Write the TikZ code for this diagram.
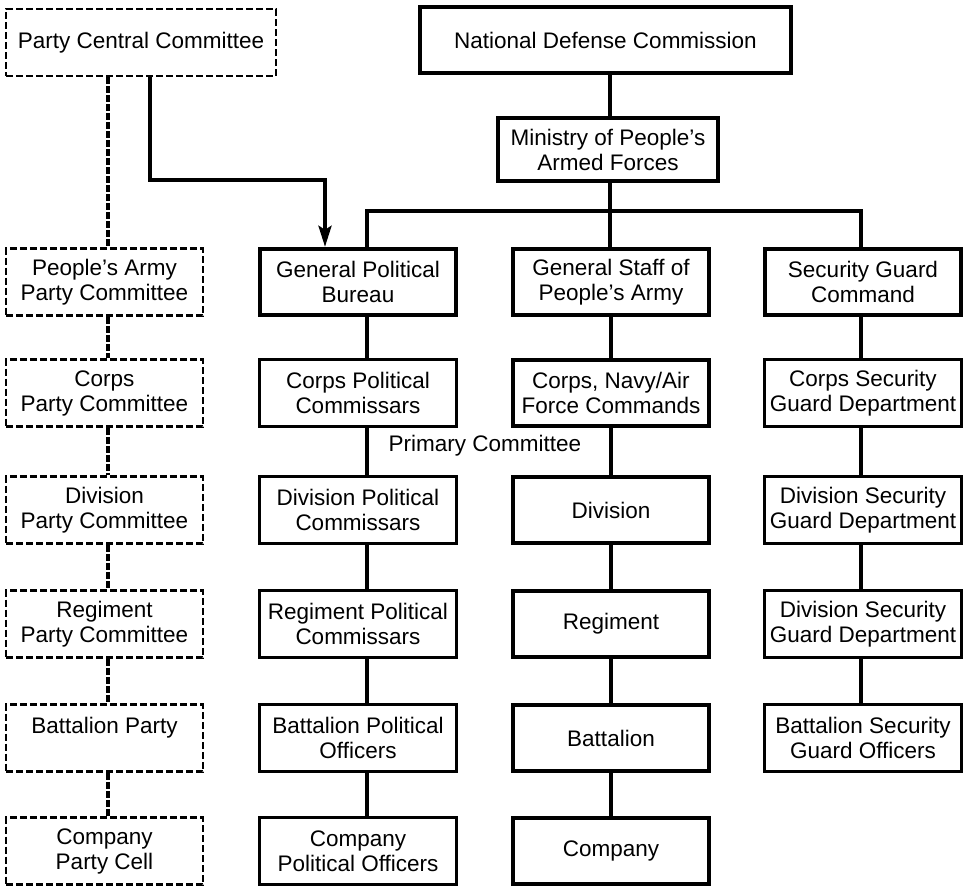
\documentclass[tikz,border=0pt]{standalone}
\usepackage{fontspec}
\setmainfont{Liberation Sans}
\usetikzlibrary{arrows.meta}

\tikzset{
    unit/.style={draw, line width=2.4pt, minimum width=197pt, minimum height=67pt,
        inner sep=0pt, align=center, font=\fontsize{22.5}{25}\selectfont},
    command/.style={unit, line width=4.4pt, minimum width=196pt, minimum height=66pt},
    party/.style={unit, line width=2.8pt, dash pattern=on 7pt off 3pt},
    link/.style={line width=3.6pt},
    partylink/.style={line width=3.4pt, dash pattern=on 7pt off 2pt},
}

\begin{document}
\begin{tikzpicture}[x=1pt, y=-1pt]
    \useasboundingbox (0,0) rectangle (970,889);

    % top of the chain
    \node[party, minimum width=270pt] (pcc) at (141, 42.5) {Party Central Committee};
    \node[command, minimum width=371pt] (ndc) at (605.5, 40) {National Defense Commission};
    \node[command, minimum width=220pt, minimum height=63pt] (mpaf) at (608, 149.5) {Ministry of People's\\Armed Forces};

    % party committees
    \node[party] (pc0) at (104.5, 282) {People's Army\\Party Committee};
    \node[party] (pc1) at (104.5, 393) {Corps\\Party Committee};
    \node[party] (pc2) at (104.5, 510) {Division\\Party Committee};
    \node[party] (pc3) at (104.5, 624) {Regiment\\Party Committee};
    \node[party] (pc4) at (104.5, 738) {Battalion Party\\\mbox{}};
    \node[party] (pc5) at (104.5, 851) {Company\\Party Cell};

    % political line
    \node[command] (pol0) at (358, 282) {General Political\\Bureau};
    \node[unit] (pol1) at (358, 393) {Corps Political\\Commissars};
    \node[unit] (pol2) at (358, 510) {Division Political\\Commissars};
    \node[unit] (pol3) at (358, 624) {Regiment Political\\Commissars};
    \node[unit] (pol4) at (358, 738) {Battalion Political\\Officers};
    \node[unit] (pol5) at (358, 851) {Company\\Political Officers};

    \node[font=\fontsize{22.5}{25}\selectfont] (primary) at (485, 446) {Primary Committee};

    % army line
    \node[command] (army0) at (611, 282) {General Staff of\\People's Army};
    \node[command] (army1) at (611, 393) {Corps, Navy/Air\\Force Commands};
    \node[command] (army2) at (611, 510) {Division};
    \node[command] (army3) at (611, 624) {Regiment};
    \node[command] (army4) at (611, 738) {Battalion};
    \node[command] (army5) at (611, 851) {Company};

    % security line
    \node[command] (sec0) at (863, 282) {Security Guard\\Command};
    \node[unit] (sec1) at (863, 393) {Corps Security\\Guard Department};
    \node[unit] (sec2) at (863, 510) {Division Security\\Guard Department};
    \node[unit] (sec3) at (863, 624) {Division Security\\Guard Department};
    \node[unit] (sec4) at (863, 738) {Battalion Security\\Guard Officers};

    \coordinate (spine) at (610, 211);
    \coordinate (bend) at (325, 180);

    \draw[link] (ndc.south -| spine) -- (mpaf.north -| spine);
    \draw[link] (mpaf.south -| spine) -- (army0.north -| spine);
    \draw[link] ([xshift=9pt]pol0.north) |- (spine) -| ([xshift=-2pt]sec0.north);
    \draw[link, -{Stealth[length=21pt, width=13pt, inset=4pt]}] ([xshift=9pt]pcc.south) |- (bend) -- (bend |- pol0.north);
    \draw[partylink] ([xshift=3.5pt]pcc.south -| pc0.north) -- ([xshift=3.5pt]pc0.north);

    \foreach \a/\b in {0/1, 1/2, 2/3, 3/4, 4/5} {
        \draw[partylink] ([xshift=3.5pt]pc\a.south) -- ([xshift=3.5pt]pc\b.north);
        \draw[link] ([xshift=9pt]pol\a.south) -- ([xshift=9pt]pol\b.north);
        \draw[link] (army\a) -- (army\b);
    }
    \foreach \a/\b in {0/1, 1/2, 2/3, 3/4}
        \draw[link] ([xshift=-2pt]sec\a.south) -- ([xshift=-2pt]sec\b.north);
\end{tikzpicture}
\end{document}
